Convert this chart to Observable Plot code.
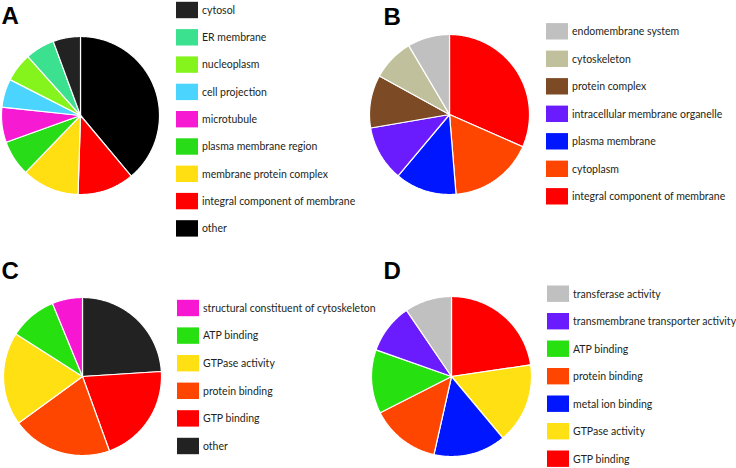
<!DOCTYPE html>
<html>
<head>
<meta charset="utf-8">
<script src="https://cdn.jsdelivr.net/npm/d3@7"></script>
<script src="https://cdn.jsdelivr.net/npm/@observablehq/plot@0.6"></script>
<style>
  html, body { margin: 0; padding: 0; background: #fff; }
  #chart { width: 736px; height: 468px; }
</style>
</head>
<body>
<div id="chart"></div>
<script>
// Panel letters
const letters = ["A", "B", "C", "D"];

// Panel A (legend order; pie is drawn clockwise from 12 o'clock in reverse legend order)
const catsA = ["cytosol", "ER membrane", "nucleoplasm", "cell projection", "microtubule",
  "plasma membrane region", "membrane protein complex", "integral component of membrane", "other"];
const valsA = [5.6, 6.0, 5.9, 5.8, 7.2, 7.3, 11.7, 11.6, 38.9];
const colorsA = ["#222222", "#3be18e", "#84f41c", "#4bd4fd", "#f71ad3", "#28dd17", "#ffdf12", "#ff0000", "#000000"];

// Panel B
const catsB = ["endomembrane system", "cytoskeleton", "protein complex", "intracellular membrane organelle",
  "plasma membrane", "cytoplasm", "integral component of membrane"];
const valsB = [8.5, 8.5, 10.7, 11.2, 12.4, 17.1, 31.6];
const colorsB = ["#c0c0c0", "#c0c09c", "#7c4b25", "#6a1cff", "#0016ff", "#ff4600", "#ff0000"];

// Panel C
const catsC = ["structural constituent of cytoskeleton", "ATP binding", "GTPase activity",
  "protein binding", "GTP binding", "other"];
const valsC = [6.2, 9.75, 19.1, 20.5, 20.5, 24.0];
const colorsC = ["#f716d2", "#27e010", "#ffe012", "#ff4600", "#ff0000", "#222222"];

// Panel D
const catsD = ["transferase activity", "transmembrane transporter activity", "ATP binding",
  "protein binding", "metal ion binding", "GTPase activity", "GTP binding"];
const valsD = [9.5, 10.1, 12.9, 14.0, 14.6, 16.25, 22.7];
const colorsD = ["#c0c0c0", "#6a1cff", "#27e010", "#ff4600", "#0016ff", "#ffe012", "#ff0000"];

// Layout (pixels)
const layout = [
  {cx: 80,  cy: 115, r: 79, lx: 1,   ly: 6,   sx: 176, sy: 10,  step: 27.3},
  {cx: 449, cy: 114, r: 80, lx: 383, ly: 7,   sx: 546, sy: 31.3, step: 27.5},
  {cx: 82,  cy: 376, r: 79, lx: 1,   ly: 261, sx: 177, sy: 308, step: 27.6},
  {cx: 451, cy: 376, r: 80, lx: 383, ly: 261, sx: 547, sy: 293.7, step: 27.5}
];

const panels = [
  {cats: catsA, vals: valsA, colors: colorsA},
  {cats: catsB, vals: valsB, colors: colorsB},
  {cats: catsC, vals: valsC, colors: colorsC},
  {cats: catsD, vals: valsD, colors: colorsD}
];

const slicePts = [];
const swatches = [];
const labels = [];
const letterRows = [];

panels.forEach((p, pi) => {
  const L = layout[pi];
  const rows = p.cats.map((c, i) => ({cat: c, v: p.vals[i], color: p.colors[i], i}));
  const pieOrder = rows.slice().reverse();
  const arcs = d3.pie().sort(null).value(d => d.v)(pieOrder);
  arcs.forEach((a, k) => {
    const key = `${pi}-${k}`;
    const color = a.data.color;
    slicePts.push({key, color, x: L.cx, y: L.cy});
    const n = Math.max(2, Math.ceil((a.endAngle - a.startAngle) / 0.01));
    for (let j = 0; j <= n; j++) {
      const t = a.startAngle + (a.endAngle - a.startAngle) * j / n;
      slicePts.push({key, color, x: L.cx + L.r * Math.sin(t), y: L.cy - L.r * Math.cos(t)});
    }
    slicePts.push({key, color, x: L.cx, y: L.cy});
  });
  rows.forEach((d, i) => {
    const yc = L.sy + i * L.step;
    swatches.push({x1: L.sx, x2: L.sx + 22, y1: yc - 8.2, y2: yc + 8.2, color: d.color});
    labels.push({x: L.sx + 25.5, y: yc, text: d.cat});
  });
  letterRows.push({x: L.lx, y: L.ly, text: letters[pi]});
});

const chart = Plot.plot({
  width: 736,
  height: 468,
  margin: 0,
  x: {type: "identity", axis: null},
  y: {type: "identity", axis: null},
  color: {type: "identity"},
  style: {fontFamily: "Lato, sans-serif", fontSize: "10.5px", background: "#fff"},
  marks: [
    Plot.line(slicePts, {x: "x", y: "y", z: "key", fill: "color", stroke: "#ffffff", strokeWidth: 1.2, strokeLinejoin: "miter", curve: "linear"}),
    Plot.rect(swatches, {x1: "x1", x2: "x2", y1: "y1", y2: "y2", fill: "color"}),
    Plot.text(labels, {x: "x", y: "y", text: "text", textAnchor: "start", lineAnchor: "middle", fill: "#231f20", fontSize: 10.5, fontFamily: "Lato, sans-serif"}),
    Plot.text(letterRows, {x: "x", y: "y", text: "text", textAnchor: "start", lineAnchor: "top", fontSize: 24, fontWeight: "bold", fontFamily: "'Liberation Sans', Arial, sans-serif", fill: "#000"})
  ]
});
document.getElementById("chart").appendChild(chart);
</script>
</body>
</html>
